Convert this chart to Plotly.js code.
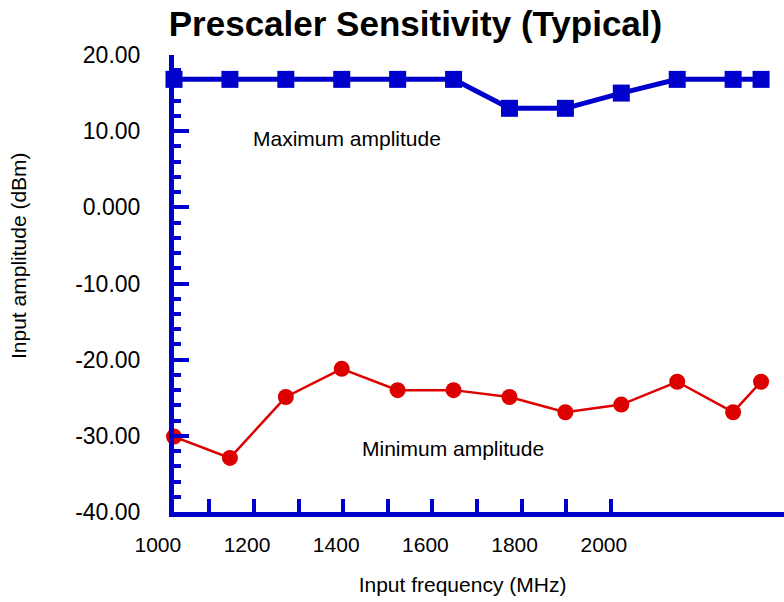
<!DOCTYPE html>
<html>
<head>
<meta charset="utf-8">
<script src="https://cdn.plot.ly/plotly-3.0.1.min.js"></script>
<style>html,body{margin:0;padding:0;background:#fff;}#chart{width:784px;height:602px;}</style>
</head>
<body>
<div id="chart"></div>
<script>
// Data
var freqMHz = [1000, 1100, 1200, 1300, 1400, 1500, 1600, 1700, 1800, 1900, 2000, 2050];
var maxAmplitude = [16.8, 16.8, 16.8, 16.8, 16.8, 16.8, 13.0, 13.0, 15.0, 16.8, 16.8, 16.8];
var minAmplitude = [-30.1, -32.9, -24.9, -21.2, -24.0, -24.0, -24.9, -26.9, -25.9, -22.9, -26.9, -22.9];
var yTickVals = [-40, -30, -20, -10, 0, 10, 20];
var yTickText = ['-40.00', '-30.00', '-20.00', '-10.00', '0.000', '10.00', '20.00'];
var xTickMarks = [1100, 1200, 1300, 1400, 1500, 1600, 1700, 1800, 1900, 2000];
var xLabelVals = [1000, 1200, 1400, 1600, 1800, 2000];
var xLabelText = ['1000', '1200', '1400', '1600', '1800', '2000'];

var BLUE = '#0000cc';
var RED = '#dd0000';
var FONT = 'Liberation Sans, Arial, Helvetica, sans-serif';

var traces = [
  {
    x: freqMHz, y: minAmplitude, type: 'scatter', mode: 'lines+markers',
    name: 'Minimum amplitude', cliponaxis: false,
    line: {color: RED, width: 2.5},
    marker: {color: RED, size: 16, symbol: 'circle'}
  },
  {
    x: freqMHz, y: maxAmplitude, type: 'scatter', mode: 'lines+markers',
    name: 'Maximum amplitude', cliponaxis: false,
    line: {color: BLUE, width: 5},
    marker: {color: BLUE, size: 17, symbol: 'square'}
  },
  // empty helper traces so the tick-mark axis and the label axis get drawn
  {x: [], y: [], type: 'scatter', mode: 'markers', xaxis: 'x2', yaxis: 'y', hoverinfo: 'skip', showlegend: false},
  {x: [], y: [], type: 'scatter', mode: 'markers', xaxis: 'x3', yaxis: 'y', hoverinfo: 'skip', showlegend: false}
];

var layout = {
  width: 784, height: 602,
  margin: {l: 141, r: 0, t: 55, b: 90, pad: 0},
  paper_bgcolor: '#ffffff', plot_bgcolor: 'rgba(0,0,0,0)',
  showlegend: false,
  font: {family: FONT, color: '#000'},
  title: {
    text: '<b>Prescaler Sensitivity (Typical)</b>',
    font: {family: FONT, size: 35, color: '#000'},
    x: 415.5 / 784, xref: 'container', xanchor: 'center',
    y: 1 - 24 / 602, yref: 'container', yanchor: 'middle'
  },
  xaxis: {
    domain: [33 / 643, 1], range: [1000, 2091], anchor: 'y',
    showline: true, linecolor: BLUE, linewidth: 5,
    ticks: '', showticklabels: false, showgrid: false, zeroline: false, fixedrange: true
  },
  xaxis2: {
    overlaying: 'x', anchor: 'y', side: 'bottom',
    range: [1020.6, 2388.3],
    tickmode: 'array', tickvals: xTickMarks,
    ticks: 'inside', ticklen: 13, tickwidth: 4, tickcolor: BLUE,
    showticklabels: false, showline: false, showgrid: false, zeroline: false
  },
  xaxis3: {
    domain: [0, 1], anchor: 'y', side: 'bottom',
    range: [962.3, 2404.0],
    tickmode: 'array', tickvals: xLabelVals, ticktext: xLabelText,
    ticks: '', showline: false, showgrid: false, zeroline: false,
    tickfont: {family: FONT, size: 21, color: '#000'},
    ticklabelstandoff: 18,
    title: {text: 'Input frequency (MHz)', font: {family: FONT, size: 21, color: '#000'}, standoff: 22}
  },
  yaxis: {
    anchor: 'x', range: [-40, 20],
    tickmode: 'array', tickvals: yTickVals, ticktext: yTickText,
    ticks: 'inside', ticklen: 15, tickwidth: 4, tickcolor: BLUE,
    minor: {dtick: 2, ticks: 'inside', ticklen: 7, tickwidth: 4, tickcolor: BLUE, showgrid: false},
    showline: true, linecolor: BLUE, linewidth: 5,
    showgrid: false, zeroline: false,
    tickfont: {family: FONT, size: 23, color: '#000'},
    ticklabelstandoff: 24
  },
  annotations: [
    {text: 'Maximum amplitude', xref: 'x', yref: 'y', x: 1310, y: 9.1, showarrow: false,
     xanchor: 'center', yanchor: 'middle', font: {family: FONT, size: 21, color: '#000'}},
    {text: 'Minimum amplitude', xref: 'x', yref: 'y', x: 1499, y: -31.7, showarrow: false,
     xanchor: 'center', yanchor: 'middle', font: {family: FONT, size: 21, color: '#000'}},
    {text: 'Input amplitude (dBm)', xref: 'paper', yref: 'paper', x: (18 - 141) / 643, y: (512 - 256) / 457,
     showarrow: false, textangle: -90, xanchor: 'center', yanchor: 'middle',
     font: {family: FONT, size: 21, color: '#000'}}
  ]
};

Plotly.newPlot('chart', traces, layout, {staticPlot: true, displayModeBar: false});
</script>
</body>
</html>
